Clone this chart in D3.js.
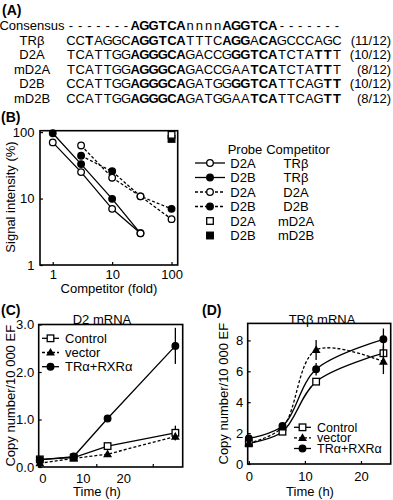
<!DOCTYPE html>
<html>
<head>
<meta charset="utf-8">
<style>
    body { margin: 0; background: #fff; }
    svg { display: block; font-family: "Liberation Sans", Arial, sans-serif; }
    svg text { fill: #000; font-size: 13px; }
    .frame { fill: none; stroke: #000; stroke-width: 1.6; }
    .axis path { display: none; }
    .axis line { stroke: #000; stroke-width: 1.2; }
    .axis text { font-size: 13px; font-family: "Liberation Sans", Arial, sans-serif; }
    .plotline { fill: none; stroke: #000; stroke-width: 1.3; }
    .dashed { stroke-dasharray: 3, 2; }
</style>
</head>
<body>
    <svg class="fig"></svg>
<script src="https://d3js.org/d3.v7.min.js"></script>
<script>
// ---- panel A : sequences
const seqNames = ["Consensus", "TRβ", "D2A", "mD2A", "D2B", "mD2B"];
const seqs = [
    "-------AGGTCAnnnnAGGTCA-------",
    "CCTAGGCAGGTCATTTCAGGACAGCCCAGC",
    "TCATTGGAGGGCAGACCGGGTCATCTATTT",
    "TCATTGGAGGGCAGACCGAATCATCTATTT",
    "CCATTGGAGGGCAGATGGGGTCATTCAGTT",
    "CCATTGGAGGGCAGATGGAATCATTCAGTT"
];
// 1 = bold letter
const boldMasks = [
    "000000011111100001111110000000",
    "001000011111100001110110000000",
    "000000011111100000111110000110",
    "000000011111100000001110000110",
    "000000011111100000111110000011",
    "000000011111100000001110000011"
];
const matchScores = ["", "(11/12)", "(10/12)", "(8/12)", "(10/12)", "(8/12)"];

// ---- panel B : competition (log-log)
const competitorFold = [1, 3, 10, 30, 100];
const sigD2A_TRb  = [70, 25, 7.0, 3.0, null];
const sigD2B_TRb  = [96, 33, 9.9, 3.0, null];
const sigD2A_D2A  = [null, 63, 20.6, 10.8, 4.9];
const sigD2B_D2B  = [null, 44, 25.7, 10.8, 7.0];
const sigD2A_mD2A = [null, null, null, null, 91];
const sigD2B_mD2B = [null, null, null, null, 79];
const legendProbe = ["D2A", "D2B", "D2A", "D2B", "D2A", "D2B"];
const legendCompetitor = ["TRβ", "TRβ", "D2A", "D2B", "mD2A", "mD2B"];

// ---- panels C, D : time course
const timeH = [0, 6, 12, 24];
const timeTicks = [0, 10, 20];
const seriesNames = ["Control", "vector", "TRα+RXRα"];
const d2Control = [0.16, 0.20, 0.44, 0.72];
const d2ControlErr = [0.02, 0.02, 0.03, 0.15];
const d2Vector = [0.08, 0.18, 0.27, 0.64];
const d2VectorErr = [0.02, 0.02, 0.03, 0.08];
const d2TrRxr = [0.15, 0.22, 1.02, 2.55];
const d2TrRxrErr = [0.02, 0.02, 0.04, 0.38];

const trbControl = [1.34, 2.09, 5.33, 7.17];
const trbControlErr = [0.15, 0.15, 0.1, 0.5];
const trbVector = [1.35, 2.37, 7.38, 6.62];
const trbVectorErr = [0.2, 0.15, 0.65, 0.8];
const trbTrRxr = [1.66, 2.46, 6.13, 8.07];
const trbTrRxrErr = [0.15, 0.1, 0.4, 0.7];

const svg = d3.select(".fig").attr("width", 393).attr("height", 500);

function panelLetter(txt, x, y) {
    svg.append("text").attr("x", x).attr("y", y)
        .style("font-size", "14px").style("font-weight", "bold").text(txt);
}

function marker(g, type, x, y) {
    if (type == "openCircle" || type == "filledCircle") {
        g.append("circle").attr("cx", x).attr("cy", y).attr("r", 3.3)
            .attr("fill", type == "openCircle" ? "#fff" : "#000")
            .attr("stroke", "#000").attr("stroke-width", 1.3);
    } else if (type == "openSquare" || type == "filledSquare") {
        g.append("rect").attr("x", x - 3.3).attr("y", y - 3.3).attr("width", 6.6).attr("height", 6.6)
            .attr("fill", type == "openSquare" ? "#fff" : "#000")
            .attr("stroke", "#000").attr("stroke-width", 1.3);
    } else if (type == "triangle") {
        g.append("path").attr("transform", "translate(" + x + "," + (y + 0.5) + ")")
            .attr("d", d3.symbol(d3.symbolTriangle, 34)()).attr("fill", "#000");
    }
}

function drawA() {
    panelLetter("(A)", 2, 15);
    const g = svg.append("g");
    const x0 = 71, step = 9.17, y0 = 30, rowStep = 14.6;
    seqs.forEach((s, r) => {
        const y = y0 + r * rowStep;
        g.append("text").attr("x", 32).attr("y", y).attr("text-anchor", "middle").text(seqNames[r]);
        const row = g.append("text").attr("y", y).attr("text-anchor", "middle");
        s.split("").forEach((ch, i) => {
            row.append("tspan").attr("x", x0 + i * step)
                .style("font-weight", boldMasks[r][i] == "1" ? "bold" : "normal")
                .text(ch);
        });
        g.append("text").attr("x", 391).attr("y", y).attr("text-anchor", "end").text(matchScores[r]);
    });
}

function drawB() {
    panelLetter("(B)", 1, 122);
    const g = svg.append("g");
    const x = d3.scaleLog().domain([0.61, 127]).range([40, 177.7]);
    const y = d3.scaleLog().domain([1, 105]).range([265, 130.7]);

    g.append("g").attr("class", "axis").attr("transform", "translate(0,265)")
        .call(d3.axisBottom(x).tickValues([1, 10, 100]).tickFormat(d3.format("d"))
            .tickSizeInner(-3).tickSizeOuter(0).tickPadding(4.5));
    g.append("g").attr("class", "axis").attr("transform", "translate(40,0)")
        .call(d3.axisLeft(y).tickValues([1, 10, 100]).tickFormat(d3.format("d"))
            .tickSizeInner(-3).tickSizeOuter(0).tickPadding(5.5));
    g.append("rect").attr("class", "frame").attr("x", 40).attr("y", 130.7)
        .attr("width", 137.7).attr("height", 134.3);

    g.append("text").attr("x", 109).attr("y", 292.5).attr("text-anchor", "middle").text("Competitor (fold)");
    g.append("text").attr("transform", "translate(10,197) rotate(-90)")
        .attr("text-anchor", "middle").attr("dy", "0.35em").text("Signal intensity (%)");

    const series = [
        { v: sigD2B_TRb, m: "filledCircle", dash: false },
        { v: sigD2B_D2B, m: "filledCircle", dash: true },
        { v: sigD2A_TRb, m: "openCircle", dash: false },
        { v: sigD2A_D2A, m: "openCircle", dash: true },
        { v: sigD2B_mD2B, m: "filledSquare", dash: false },
        { v: sigD2A_mD2A, m: "openSquare", dash: false }
    ];
    const line = d3.line().defined(d => d[1] != null).x(d => x(d[0])).y(d => y(d[1]));
    series.forEach(s => {
        const pts = d3.zip(competitorFold, s.v);
        g.append("path").attr("class", "plotline" + (s.dash ? " dashed" : "")).attr("d", line(pts));
    });
    series.forEach(s => {
        d3.zip(competitorFold, s.v).filter(d => d[1] != null)
            .forEach(d => marker(g, s.m, x(d[0]), y(d[1])));
    });

    // legend
    const lg = svg.append("g");
    const legMarks = ["openCircle", "filledCircle", "openCircle", "filledCircle", "openSquare", "filledSquare"];
    const legLine = ["solid", "solid", "dash", "dash", "none", "none"];
    lg.append("text").attr("x", 245).attr("y", 153.5).attr("text-anchor", "middle").text("Probe");
    lg.append("text").attr("x", 298).attr("y", 153.5).attr("text-anchor", "middle").text("Competitor");
    legendProbe.forEach((p, i) => {
        const yy = 163 + i * 14.5;
        if (legLine[i] != "none") {
            lg.append("line").attr("class", "plotline" + (legLine[i] == "dash" ? " dashed" : ""))
                .attr("x1", 195).attr("x2", 225).attr("y1", yy).attr("y2", yy);
        }
        marker(lg, legMarks[i], 210, yy);
        lg.append("text").attr("x", 243).attr("y", yy + 4.5).attr("text-anchor", "middle").text(p);
        lg.append("text").attr("x", 296).attr("y", yy + 4.5).attr("text-anchor", "middle").text(legendCompetitor[i]);
    });
}

function drawTimeCourse(opt) {
    const g = svg.append("g");
    const x = d3.scaleLinear().domain([-0.2, 25.3]).range(opt.xRange);
    const y = d3.scaleLinear().domain(opt.yDomain).range(opt.yRange);
    const x0 = opt.xRange[0], x1 = opt.xRange[1], yb = opt.yRange[0], yt = opt.yRange[1];

    // tick marks
    g.append("g").attr("class", "axis").attr("transform", "translate(0," + yb + ")")
        .call(d3.axisBottom(x).tickValues(timeTicks).tickFormat("").tickSizeInner(-3).tickSizeOuter(0));
    // tick labels (in panel C of the original they sit left of the marks)
    const labelX = opt.labelScale || x;
    g.append("g").attr("class", "axis").attr("transform", "translate(0," + yb + ")")
        .call(d3.axisBottom(labelX).tickValues(timeTicks).tickSize(0).tickPadding(opt.xPad));
    g.append("g").attr("class", "axis").attr("transform", "translate(" + x0 + ",0)")
        .call(d3.axisLeft(y).tickValues(opt.yTicks).tickSizeInner(-3).tickSizeOuter(0).tickPadding(4.5));
    g.append("rect").attr("class", "frame").attr("x", x0).attr("y", yt)
        .attr("width", x1 - x0).attr("height", yb - yt);

    g.append("text").attr("x", opt.titleX).attr("y", 324).attr("text-anchor", "middle").text(opt.title);
    g.append("text").attr("x", opt.xLabelX).attr("y", 496).attr("text-anchor", "middle").text("Time (h)");
    g.append("text").attr("transform", "translate(" + opt.yLabelX + "," + ((yb + yt) / 2) + ") rotate(-90)")
        .attr("text-anchor", "middle").attr("dy", "0.35em").text("Copy number/10 000 EF");

    const marks = ["openSquare", "triangle", "filledCircle"];
    const line = d3.line().x(d => x(d[0])).y(d => y(d[1])).curve(opt.curve);
    opt.series.forEach((s, k) => {
        g.append("path").attr("class", "plotline" + (k == 1 ? " dashed" : ""))
            .attr("d", line(d3.zip(timeH, s.v)));
    });
    opt.series.forEach((s, k) => {
        timeH.forEach((t, i) => {
            g.append("line").attr("stroke", "#000").attr("stroke-width", 1.3)
                .attr("x1", x(t)).attr("x2", x(t))
                .attr("y1", y(s.v[i] - s.e[i])).attr("y2", y(s.v[i] + s.e[i]));
            marker(g, marks[k], x(t), y(s.v[i]));
        });
    });

    // legend
    const L = opt.legend;
    seriesNames.forEach((n, k) => {
        const yy = L.y + k * L.step;
        g.append("line").attr("class", "plotline" + (k == 1 ? " dashed" : ""))
            .attr("x1", L.x).attr("x2", L.x + 17).attr("y1", yy).attr("y2", yy);
        marker(g, marks[k], L.x + 8.5, yy);
        g.append("text").attr("x", L.x + 23).attr("y", yy + 4.5).style("font-size", L.size).text(n);
    });
}

drawA();
drawB();

panelLetter("(C)", 1, 315);
drawTimeCourse({
    xRange: [38.7, 182.7], yDomain: [0, 3], yRange: [467, 324.5], yTicks: [0, 1, 2, 3],
    xPad: 6.8, labelScale: d3.scaleLinear().domain([0, 20]).range([42.3, 123.3]),
    title: "D2 mRNA", titleX: 102, xLabelX: 97, yLabelX: 10,
    curve: d3.curveLinear,
    series: [
        { v: d2Control, e: d2ControlErr },
        { v: d2Vector, e: d2VectorErr },
        { v: d2TrRxr, e: d2TrRxrErr }
    ],
    legend: { x: 42, y: 338.3, step: 14.2, size: "13px" }
});

panelLetter("(D)", 202, 315);
drawTimeCourse({
    xRange: [247.7, 390.7], yDomain: [0, 9.1], yRange: [464, 323.4], yTicks: [0, 2, 4, 6, 8],
    xPad: 8, labelScale: null,
    title: "TRβ mRNA", titleX: 322, xLabelX: 310, yLabelX: 223,
    curve: d3.curveCatmullRom.alpha(0.5),
    series: [
        { v: trbControl, e: trbControlErr },
        { v: trbVector, e: trbVectorErr },
        { v: trbTrRxr, e: trbTrRxrErr }
    ],
    legend: { x: 294, y: 427.3, step: 10.6, size: "12.5px" }
});
</script>
</body>
</html>
